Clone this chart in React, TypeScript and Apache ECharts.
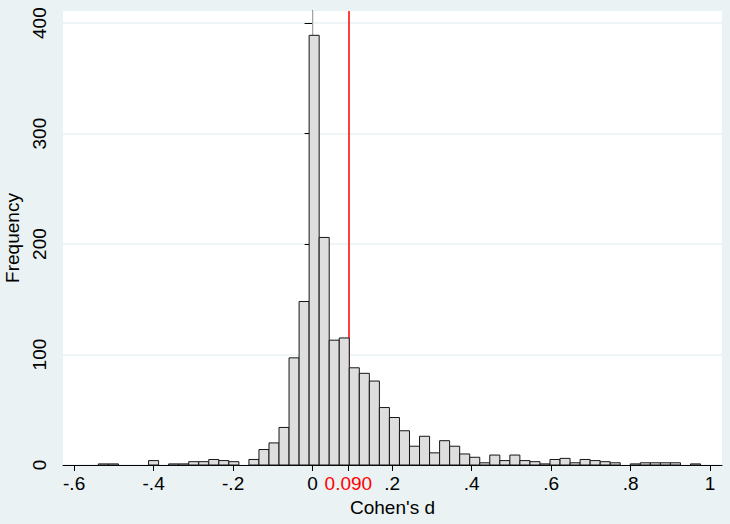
import * as echarts from "echarts";
import { useEffect, useRef } from "react";

// histogram bins: left edge of first bin, common width, count per bin
const binStart = -0.539;
const binWidth = 0.02525;
const binCounts = [
  1, 1, 0, 0, 0, 4, 0, 1, 1, 3,
  3, 5, 4, 3, 0, 5, 14, 20, 34, 97,
  148, 389, 206, 113, 115, 88, 83, 76, 52, 43,
  31, 17, 26, 11, 22, 17, 10, 7, 2, 9,
  4, 9, 4, 3, 1, 5, 6, 2, 5, 4,
  3, 2, 0, 1, 2, 2, 2, 2, 0, 1,
];

const xTicks = [-0.6, -0.4, -0.2, 0, 0.09, 0.2, 0.4, 0.6, 0.8, 1];
const yTicks = [0, 100, 200, 300, 400];
const meanEffect = 0.09;
const meanEffectLabel = "0.090";

const FONT = "'Liberation Sans', Arial, sans-serif";

const fmtX = (v: number) => {
  if (Math.abs(v - meanEffect) < 1e-9) return `{red|${meanEffectLabel}}`;
  if (v === 0) return "0";
  return String(v).replace("0.", ".");
};

export default function App() {
  const chartRef = useRef<HTMLDivElement | null>(null);

  useEffect(() => {
    document.body.style.margin = "0";
    if (!chartRef.current) return;
    const chart = echarts.init(chartRef.current, undefined, { renderer: "svg" });

    const bins = binCounts.map((c, i) => [
      binStart + i * binWidth,
      binStart + (i + 1) * binWidth,
      c,
    ]);

    const option: echarts.EChartsOption = {
      animation: false,
      backgroundColor: "#EAF2F3",
      textStyle: { fontFamily: FONT },
      grid: {
        left: 63,
        right: 8,
        top: 11,
        bottom: 59,
        show: true,
        backgroundColor: "#FFFFFF",
        borderWidth: 0,
        outerBoundsMode: "none",
      } as any,
      xAxis: {
        type: "value",
        min: -0.628,
        max: 1.03,
        position: "bottom",
        name: "Cohen's d",
        nameLocation: "middle",
        nameGap: 33,
        nameTextStyle: { fontSize: 19, color: "#000", fontFamily: FONT },
        axisLine: { show: true, onZero: false, lineStyle: { color: "#000", width: 1 } },
        axisTick: {
          show: true,
          length: 6,
          customValues: xTicks,
          lineStyle: { color: "#000" },
        },
        axisLabel: {
          customValues: xTicks,
          formatter: fmtX,
          fontSize: 19,
          color: "#000",
          margin: 9,
          fontFamily: FONT,
          rich: { red: { color: "#FF0000", fontSize: 19, fontFamily: FONT } },
        },
        splitLine: { show: false },
      },
      yAxis: {
        type: "value",
        min: 0,
        max: 411,
        interval: 100,
        name: "Frequency",
        nameLocation: "middle",
        nameGap: 38,
        nameRotate: 90,
        nameTextStyle: { fontSize: 19, color: "#000", fontFamily: FONT },
        axisLine: { show: true, lineStyle: { color: "#000", width: 1 } },
        axisTick: {
          show: true,
          length: 8,
          customValues: yTicks,
          lineStyle: { color: "#000" },
        },
        axisLabel: {
          customValues: yTicks,
          rotate: 90,
          fontSize: 19,
          color: "#000",
          margin: 14,
          fontFamily: FONT,
        },
        splitLine: { show: true, lineStyle: { color: "#EAF2F3", width: 1.5 } },
      },
      series: [
        {
          type: "line",
          data: [],
          silent: true,
          markLine: {
            z: 1,
            silent: true,
            symbol: "none",
            label: { show: false },
            data: [
              { xAxis: 0, lineStyle: { color: "#D9DEDF", width: 1.5, type: "solid" } },
              { xAxis: meanEffect, lineStyle: { color: "#FF0000", width: 1.5, type: "solid" } },
            ],
          },
        },
        {
          type: "custom",
          z: 3,
          data: bins,
          encode: { x: [0, 1], y: 2 },
          renderItem: (_params: any, api: any) => {
            const count = api.value(2);
            if (!count) return null;
            const p0 = api.coord([api.value(0), 0]);
            const p1 = api.coord([api.value(1), count]);
            return {
              type: "rect",
              shape: {
                x: p0[0],
                y: p1[1],
                width: p1[0] - p0[0],
                height: p0[1] - p1[1],
              },
              style: { fill: "#DEDEDE", stroke: "#151515", lineWidth: 1 },
            };
          },
        },
      ],
    };

    chart.setOption(option);
    return () => chart.dispose();
  }, []);

  return <div ref={chartRef} style={{ width: 730, height: 524 }} />;
}
